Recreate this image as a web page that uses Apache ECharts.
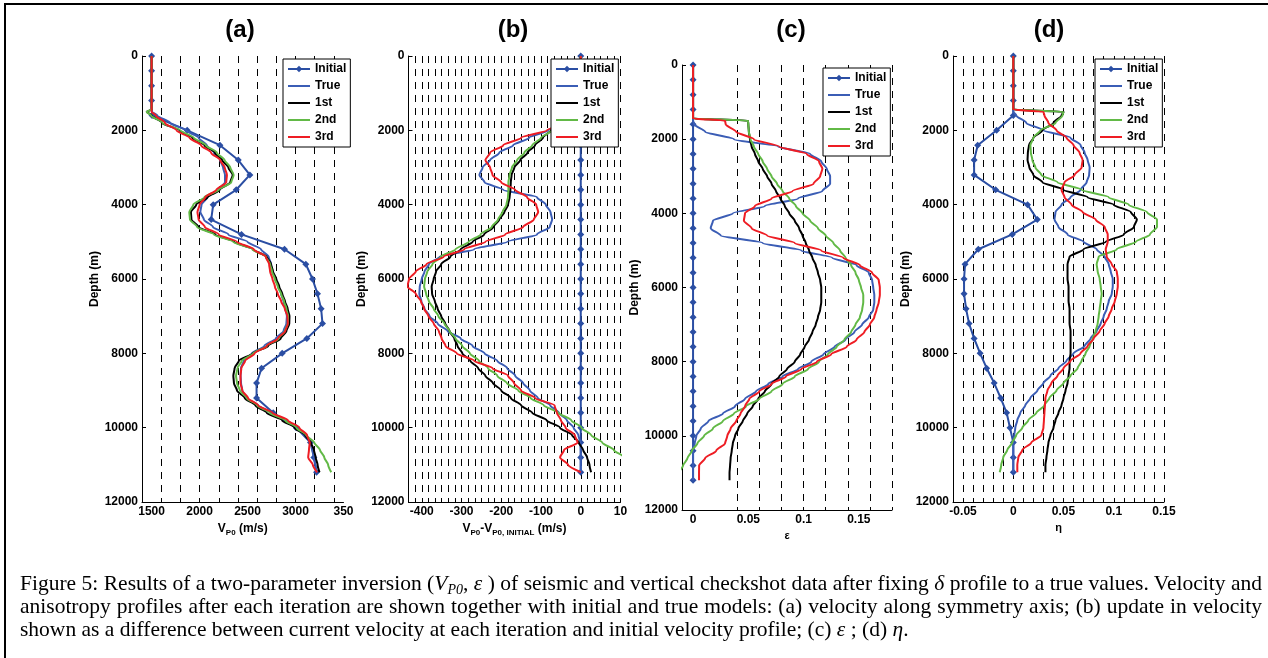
<!DOCTYPE html>
<html>
<head>
<meta charset="utf-8">
<title>Figure 5</title>
<script src="https://cdn.jsdelivr.net/npm/echarts@6/dist/echarts.min.js"></script>
<style>
  html, body { margin: 0; padding: 0; background: #fff; }
  #wrap { position: relative; width: 1268px; height: 658px; overflow: hidden; }
  #chart { position: absolute; left: 0; top: 0; width: 1268px; height: 658px; }
  #frame { position: absolute; left: 4px; top: 3px; width: 1280px; height: 680px;
           border-left: 2px solid #000; border-top: 2px solid #000; pointer-events: none; }
  #caption { position: absolute; left: 20px; top: 572px; width: 1242px;
             font-family: "Liberation Serif", "Times New Roman", serif; font-size: 21.5px;
             line-height: 23px; color: #000; }
  #caption .j { text-align: justify; text-align-last: justify; }
  #caption .sub { font-size: 14px; position: relative; top: 4px; line-height: 0; }
</style>
</head>
<body>
<div id="wrap">
  <div id="chart"></div>
  <div id="frame"></div>
  <div id="caption">
    <div class="j">Figure 5: Results of a two-parameter inversion (<i>V<span class="sub">P0</span></i>, <i>ε</i> ) of seismic and vertical checkshot data after fixing <i>δ</i> profile to a true values. Velocity and</div>
    <div class="j">anisotropy profiles after each iteration are shown together with initial and true models: (a) velocity along symmetry axis; (b) update in velocity</div>
    <div>shown as a difference between current velocity at each iteration and initial velocity profile; (c) <i>ε</i> ; (d) <i>η</i>.</div>
  </div>
</div>
<script>
// depth samples (m) for the inverted / true profiles
const depth = [0, 1440, 1500, 1600, 1800, 2000, 2200, 2400, 2600, 2800, 3000, 3200, 3400,
  3600, 3800, 4000, 4200, 4400, 4600, 4800, 5000, 5200, 5400,
  5600, 5800, 6000, 6200, 6400, 6600, 6800, 7000, 7200, 7400,
  7600, 7800, 8000, 8200, 8400, 8600, 8800, 9000, 9200, 9400,
  9600, 9800, 10000, 10200, 10400, 10600, 10800, 11000, 11200];
// depth of the initial model nodes (markers)
const initDepth = [0, 400, 800, 1200, 1600, 2000, 2400, 2800, 3200, 3600, 4000, 4400, 4800, 5200,
  5600, 6000, 6400, 6800, 7200, 7600, 8000, 8400, 8800, 9200, 9600, 10000, 10400, 10800, 11200];

const seriesNames = ['Initial', 'True', '1st', '2nd', '3rd'];

// (a) Vp0 (m/s)
const aInitial = [1500, 1500, 1500, 1500, 1505, 1871, 2212, 2403, 2524, 2382, 2142, 2121, 2437, 2885,
  3107, 3177, 3229, 3267, 3281, 3118, 2861, 2646, 2594, 2594, 2767, 3007, 3156, 3191, 3219];
const aTrue = [1500, 1500, 1505, 1560, 1695, 1860, 1990, 2075, 2150, 2215, 2245, 2265, 2265,
  2195, 2080, 2020, 2008, 2045, 2140, 2300, 2500, 2640, 2720,
  2745, 2760, 2790, 2820, 2850, 2875, 2895, 2910, 2905, 2875,
  2795, 2675, 2545, 2460, 2432, 2427, 2432, 2445, 2490, 2610,
  2750, 2880, 3000, 3110, 3160, 3178, 3193, 3206, 3222];
const a1st = [1500, 1500, 1450, 1500, 1610, 1790, 1925, 2050, 2160, 2235, 2300, 2345, 2320,
  2210, 2085, 1965, 1910, 1915, 1990, 2165, 2360, 2555, 2700,
  2745, 2765, 2800, 2830, 2862, 2890, 2918, 2937, 2935, 2905,
  2845, 2715, 2555, 2410, 2365, 2352, 2358, 2390, 2470, 2580,
  2700, 2860, 2990, 3100, 3160, 3192, 3210, 3230, 3250];
const a2nd = [1500, 1500, 1448, 1495, 1615, 1800, 1940, 2065, 2180, 2260, 2320, 2355, 2330,
  2200, 2050, 1935, 1893, 1900, 1975, 2150, 2350, 2550, 2690,
  2735, 2755, 2785, 2815, 2850, 2880, 2905, 2922, 2920, 2890,
  2825, 2700, 2560, 2440, 2395, 2380, 2390, 2420, 2490, 2600,
  2730, 2890, 3010, 3110, 3195, 3255, 3300, 3340, 3372];
const a3rd = [1500, 1500, 1500, 1545, 1640, 1760, 1895, 2015, 2120, 2215, 2262, 2285, 2278,
  2175, 2060, 2000, 1978, 1990, 2055, 2200, 2390, 2565, 2690,
  2725, 2735, 2760, 2785, 2815, 2850, 2888, 2915, 2920, 2893,
  2815, 2700, 2575, 2475, 2435, 2427, 2427, 2445, 2505, 2610,
  2760, 2920, 3040, 3120, 3148, 3140, 3132, 3180, 3225];

// (b) Vp0 - Vp0,initial (m/s)
const bInitial = [0, 0, 0, 0, 0, 0, 0, 0, 0, 0, 0, 0, 0, 0, 0, 0, 0, 0, 0, 0, 0, 0, 0, 0, 0, 0, 0, 0, 0];
const bTrue = [0, 0, -3, -15, -40, -82, -130, -170, -205, -228, -247, -255, -242,
  -195, -110, -88, -76, -72, -78, -110, -185, -268, -355,
  -382, -393, -400, -405, -406, -401, -393, -380, -360, -335,
  -302, -272, -242, -210, -185, -165, -145, -128, -108, -77,
  -55, -35, -18, -6, -1, 0, 0, 0, 0];
const b1st = [0, 0, -50, -20, -45, -75, -95, -115, -134, -152, -167, -174, -176,
  -177, -179, -183, -192, -205, -220, -243, -272, -302, -328,
  -351, -364, -370, -375, -374, -367, -360, -351, -341, -330,
  -318, -310, -298, -278, -258, -240, -221, -200, -176, -150,
  -122, -86, -52, -22, -5, 6, 16, 22, 26];
const b2nd = [0, 0, -52, -20, -45, -72, -100, -122, -142, -160, -173, -179, -182,
  -182, -183, -187, -197, -208, -224, -252, -282, -315, -352,
  -373, -386, -392, -394, -389, -382, -370, -358, -343, -330,
  -315, -298, -279, -256, -233, -210, -186, -157, -126, -93,
  -56, -24, 2, 26, 54, 83, 110, 132, 150];
const b3rd = [0, 0, -2, -10, -40, -85, -150, -195, -228, -240, -228, -222, -200,
  -165, -135, -112, -107, -118, -145, -190, -240, -293, -345,
  -388, -415, -432, -436, -415, -402, -394, -383, -370, -357,
  -350, -340, -312, -268, -222, -183, -168, -150, -115, -66,
  -60, -50, -38, -15, -8, -42, -52, -32, 0];

// (c) epsilon
const cInitial = [0, 0, 0, 0, 0, 0, 0, 0, 0, 0, 0, 0, 0, 0, 0, 0, 0, 0, 0, 0, 0, 0, 0, 0, 0, 0, 0, 0, 0];
const cTrue = [0, 0, 0, 0.001, 0.011, 0.037, 0.077, 0.106, 0.116, 0.121, 0.124, 0.124, 0.117,
  0.095, 0.065, 0.036, 0.018, 0.016, 0.025, 0.063, 0.098, 0.126, 0.148,
  0.159, 0.162, 0.163, 0.164, 0.164, 0.163, 0.159, 0.153, 0.146, 0.138,
  0.128, 0.118, 0.107, 0.095, 0.081, 0.068, 0.057, 0.047, 0.038, 0.027,
  0.014, 0.007, 0.003, 0.0015, 0, 0, 0, 0, 0];
const c1st = [0, 0, 0.0497, 0.050, 0.0505, 0.0515, 0.053, 0.056, 0.059, 0.063, 0.067, 0.071, 0.075,
  0.079, 0.083, 0.087, 0.092, 0.096, 0.099, 0.102, 0.105, 0.108, 0.111,
  0.113, 0.115, 0.116, 0.116, 0.116, 0.115, 0.113, 0.111, 0.108, 0.105,
  0.101, 0.097, 0.092, 0.085, 0.078, 0.071, 0.065, 0.059, 0.054, 0.049,
  0.045, 0.041, 0.038, 0.036, 0.035, 0.034, 0.0335, 0.033, 0.033];
const c2nd = [0, 0, 0.0497, 0.050, 0.0505, 0.052, 0.055, 0.059, 0.063, 0.067, 0.071, 0.076, 0.081,
  0.087, 0.093, 0.099, 0.106, 0.113, 0.120, 0.127, 0.133, 0.138, 0.143,
  0.147, 0.150, 0.152, 0.154, 0.154, 0.153, 0.151, 0.147, 0.143, 0.137,
  0.130, 0.122, 0.114, 0.104, 0.092, 0.081, 0.071, 0.060, 0.048, 0.037,
  0.027, 0.018, 0.010, 0.004, -0.001, -0.005, -0.009, -0.013, -0.017];
const c3rd = [0, 0, 0.029, 0.0295, 0.039, 0.055, 0.078, 0.103, 0.114, 0.117, 0.115, 0.109, 0.090,
  0.071, 0.056, 0.047, 0.046, 0.053, 0.067, 0.092, 0.116, 0.136, 0.151,
  0.162, 0.168, 0.169, 0.169, 0.168, 0.166, 0.164, 0.160, 0.155, 0.148,
  0.139, 0.125, 0.112, 0.098, 0.084, 0.071, 0.060, 0.051, 0.047, 0.043,
  0.039, 0.034, 0.031, 0.029, 0.021, 0.011, 0.0055, 0.0054, 0.0054];

// (d) eta
const dInitial = [0, 0, 0, 0, 0, -0.0166, -0.0354, -0.039, -0.039, -0.0176, 0.0142, 0.0239, -0.001, -0.0348,
  -0.048, -0.049, -0.049, -0.047, -0.044, -0.039, -0.033, -0.0265, -0.019, -0.0126, -0.0066, -0.0033, 0, 0, 0];
const dTrue = [0, 0, 0, 0.003, 0.013, 0.030, 0.057, 0.067, 0.071, 0.074, 0.076, 0.0755, 0.073,
  0.067, 0.057, 0.048, 0.042, 0.041, 0.045, 0.054, 0.070, 0.083, 0.091,
  0.095, 0.097, 0.099, 0.099, 0.098, 0.095, 0.093, 0.090, 0.087, 0.083,
  0.077, 0.071, 0.060, 0.053, 0.045, 0.037, 0.030, 0.024, 0.017, 0.012,
  0.007, 0.004, 0.002, 0.001, 0, 0, 0, 0, 0];
const d1st = [0, 0, 0.05, 0.048, 0.040, 0.029, 0.020, 0.0156, 0.0145, 0.0142, 0.016, 0.020, 0.029,
  0.050, 0.074, 0.100, 0.117, 0.123, 0.120, 0.110, 0.092, 0.070, 0.056,
  0.054, 0.054, 0.054, 0.055, 0.055, 0.055, 0.056, 0.056, 0.056, 0.057,
  0.057, 0.057, 0.057, 0.056, 0.056, 0.055, 0.054, 0.052, 0.050, 0.048,
  0.045, 0.042, 0.040, 0.037, 0.035, 0.034, 0.033, 0.032, 0.032];
const d2nd = [0, 0, 0.05, 0.049, 0.042, 0.027, 0.020, 0.017, 0.0175, 0.019, 0.022, 0.028, 0.044,
  0.068, 0.095, 0.115, 0.133, 0.143, 0.143, 0.136, 0.122, 0.103, 0.085,
  0.083, 0.084, 0.086, 0.087, 0.088, 0.087, 0.086, 0.085, 0.084, 0.082,
  0.079, 0.076, 0.072, 0.068, 0.064, 0.057, 0.050, 0.043, 0.036, 0.031,
  0.023, 0.015, 0.009, 0.003, -0.001, -0.006, -0.010, -0.012, -0.0135];
const d3rd = [0, 0, 0.030, 0.031, 0.035, 0.043, 0.053, 0.060, 0.066, 0.069, 0.068, 0.061, 0.051,
  0.048, 0.051, 0.058, 0.069, 0.082, 0.091, 0.094, 0.094, 0.092, 0.093,
  0.098, 0.103, 0.104, 0.104, 0.103, 0.101, 0.098, 0.095, 0.091, 0.086,
  0.080, 0.074, 0.067, 0.057, 0.050, 0.044, 0.038, 0.034, 0.032, 0.0315,
  0.031, 0.0305, 0.030, 0.028, 0.018, 0.009, 0.005, 0.004, 0.004];

// tick labels (the last labels of (a) and (b) are cut off in the original figure)
const depthTicks = [0, 2000, 4000, 6000, 8000, 10000, 12000];
const aTicks = [1500, 2000, 2500, 3000, 3500];
const aTickText = ['1500', '2000', '2500', '3000', '350'];
const bTicks = [-400, -300, -200, -100, 0, 100];
const bTickText = ['-400', '-300', '-200', '-100', '0', '10'];
const cTicks = [0, 0.05, 0.1, 0.15];
const cTickText = ['0', '0.05', '0.1', '0.15'];
const dTicks = [-0.05, 0, 0.05, 0.1, 0.15];
const dTickText = ['-0.05', '0', '0.05', '0.1', '0.15'];
// dashed grid positions of (b) and (c)
const bGrid = [];
for (let k = -26; k <= 6; k++) bGrid.push(k * 100 / 6);
const cGrid = [0.02, 0.04, 0.06, 0.08, 0.1, 0.12, 0.14, 0.16, 0.18];

const FONT = '"Liberation Sans", Arial, Helvetica, sans-serif';
const colors = ['#2b4ea3', '#3b5db5', '#000000', '#62b946', '#ee1d24'];

const panels = [
  { title: '(a)', tx: 240, left: 142, top: 56, width: 201.5, height: 446, min: 1400, max: 3500, interval: 200,
    maxLine: false, ticks: aTicks, tickText: aTickText, lx: 283, ly: 59,
    xname: '{m|V}{s|P0}{m| (m/s)}', nameGap: 17,
    init: aInitial, lines: [aTrue, a1st, a2nd, a3rd] },
  { title: '(b)', tx: 513, left: 408.5, top: 56, width: 212, height: 446, min: -1300 / 3, max: 100, grid: bGrid,
    maxLine: true, ticks: bTicks, tickText: bTickText, lx: 551, ly: 59,
    xname: '{m|V}{s|P0}{m|-V}{s|P0, INITIAL}{m| (m/s)}', nameGap: 17,
    init: bInitial, lines: [bTrue, b1st, b2nd, b3rd] },
  { title: '(c)', tx: 791, left: 682, top: 65, width: 210, height: 445, min: -0.01, max: 0.18, grid: cGrid,
    maxLine: true, ticks: cTicks, tickText: cTickText, lx: 823, ly: 68,
    xname: '{e|ε}', nameGap: 19,
    init: cInitial, lines: [cTrue, c1st, c2nd, c3rd] },
  { title: '(d)', tx: 1049, left: 953, top: 56, width: 211, height: 446, min: -0.06, max: 0.15, interval: 0.01,
    maxLine: true, ticks: dTicks, tickText: dTickText, lx: 1095, ly: 59,
    xname: '{e|η}', nameGap: 13,
    init: dInitial, lines: [dTrue, d1st, d2nd, d3rd] }
];

const chart = echarts.init(document.getElementById('chart'));

const boldText = { fontFamily: FONT, fontWeight: 'bold', fontSize: 12, color: '#000' };

const grids = [], xAxes = [], yAxes = [], legends = [], series = [], titles = [];

// legend entries: only "Initial" shows its marker
const legendData = seriesNames.map(function (n, k) {
  return k === 0 ? { name: n } : { name: n, itemStyle: { color: 'rgba(0,0,0,0)', borderWidth: 0, opacity: 0 } };
});

panels.forEach(function (p, i) {
  grids.push({ left: p.left, top: p.top, width: p.width, height: p.height, containLabel: false });

  const tickOpt = { show: false };
  if (p.grid) tickOpt.customValues = p.grid;
  xAxes.push({
    gridIndex: i, type: 'value', min: p.min, max: p.max, interval: p.interval,
    name: p.xname, nameLocation: 'middle', nameGap: p.nameGap,
    nameTextStyle: {
      rich: {
        m: { fontFamily: FONT, fontWeight: 'bold', fontSize: 12, color: '#000', verticalAlign: 'top', lineHeight: 14 },
        s: { fontFamily: FONT, fontWeight: 'bold', fontSize: 8, color: '#000', verticalAlign: 'bottom', lineHeight: 8 },
        e: { fontFamily: FONT, fontWeight: 'bold', fontSize: 11, color: '#000' }
      }
    },
    axisLine: { show: true, onZero: false, lineStyle: { color: '#000', width: 1 } },
    axisTick: tickOpt,
    axisLabel: Object.assign({}, boldText, {
      customValues: p.ticks, margin: 4, showMaxLabel: true, showMinLabel: true,
      formatter: function (v) {
        const k = p.ticks.findIndex(function (t) { return Math.abs(t - v) < 1e-9; });
        return k >= 0 ? p.tickText[k] : '';
      }
    }),
    splitLine: { show: true, showMinLine: false, showMaxLine: p.maxLine,
      lineStyle: { color: '#000', width: 1, type: [7, 6] } }
  });

  yAxes.push({
    gridIndex: i, type: 'value', inverse: true, min: 0, max: 12000, interval: 2000,
    name: 'Depth (m)', nameLocation: 'middle', nameGap: 39, nameTextStyle: boldText,
    axisLine: { show: true, onZero: false, lineStyle: { color: '#000', width: 1 } },
    axisTick: { show: true, inside: true, length: 4, lineStyle: { color: '#000' } },
    axisLabel: Object.assign({}, boldText, {
      margin: 4,
      formatter: function (v) { return String(v); }
    }),
    splitLine: { show: false }
  });

  legends.push({
    orient: 'vertical', left: p.lx, top: p.ly, data: legendData,
    itemWidth: 22, itemHeight: 8, itemGap: 5, padding: [4, 4, 4, 4],
    backgroundColor: '#fff', borderColor: '#000', borderWidth: 1, borderRadius: 0,
    textStyle: boldText, selectedMode: false, z: 10
  });

  series.push({
    name: 'Initial', type: 'line', xAxisIndex: i, yAxisIndex: i,
    data: p.init.map(function (v, k) { return [v, initDepth[k]]; }),
    symbol: 'diamond', symbolSize: 7, showSymbol: true,
    lineStyle: { color: colors[0], width: 2 }, itemStyle: { color: colors[0] },
    animation: false, z: 2
  });
  p.lines.forEach(function (vals, j) {
    series.push({
      name: seriesNames[j + 1], type: 'line', xAxisIndex: i, yAxisIndex: i,
      data: vals.map(function (v, k) { return [v, depth[k]]; }),
      symbol: 'none', smooth: 0.25, smoothMonotone: 'y',
      lineStyle: { color: colors[j + 1], width: 2 }, itemStyle: { color: colors[j + 1] },
      animation: false, z: 3 + j
    });
  });

  titles.push({
    type: 'text', x: p.tx, y: 30,
    style: { text: p.title, font: 'bold 24px ' + FONT, fill: '#000',
      align: 'center', verticalAlign: 'middle', textAlign: 'center', textVerticalAlign: 'middle' }
  });
});

const option = {
  backgroundColor: '#fff',
  animation: false,
  grid: grids,
  xAxis: xAxes,
  yAxis: yAxes,
  legend: legends,
  graphic: titles,
  series: series
};

chart.setOption(option);
</script>
</body>
</html>
